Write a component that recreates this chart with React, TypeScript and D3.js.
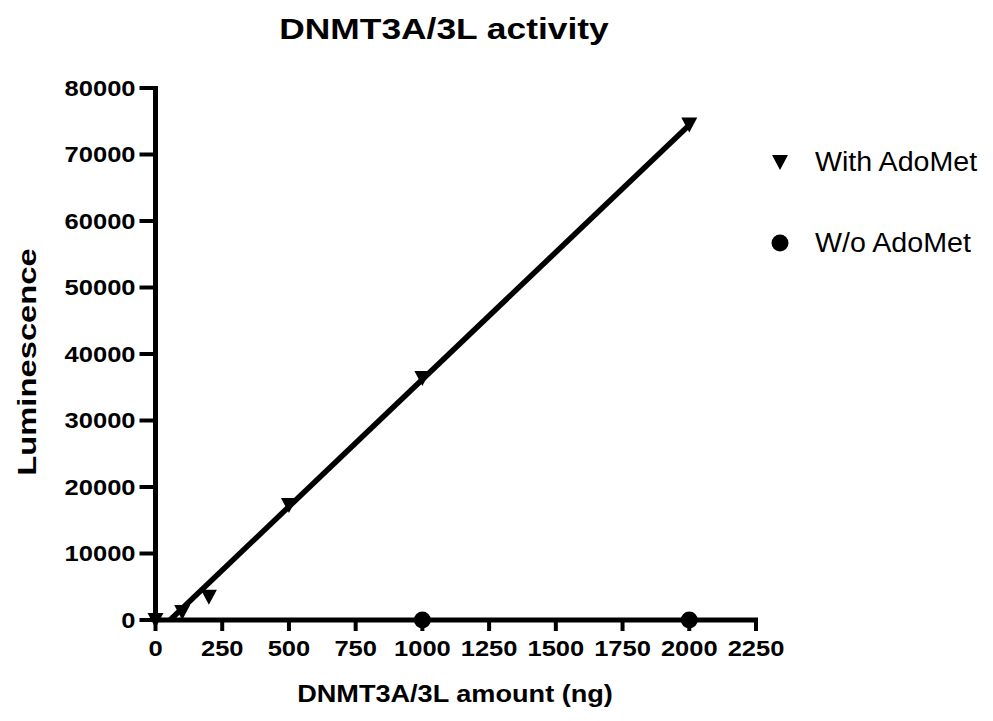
import React from "react";
import * as d3 from "d3";

const withAdoMetX = [0, 100, 200, 500, 1000, 2000];
const withAdoMetY = [0, 1200, 3500, 17300, 36400, 74500];
const withoutAdoMetX = [1000, 2000];
const withoutAdoMetY = [0, 0];
const xTicks = [0, 250, 500, 750, 1000, 1250, 1500, 1750, 2000, 2250];
const yTicks = [0, 10000, 20000, 30000, 40000, 50000, 60000, 70000, 80000];
const legendLabels = ["With AdoMet", "W/o AdoMet"];

const W = 993;
const H = 721;

export default function App() {
  const x = d3.scaleLinear().domain([0, 2250]).range([155.5, 756]);
  const y = d3.scaleLinear().domain([0, 80000]).range([620, 88]);

  // linear regression of the With AdoMet series
  const n = withAdoMetX.length;
  const mx = d3.mean(withAdoMetX) as number;
  const my = d3.mean(withAdoMetY) as number;
  let sxy = 0, sxx = 0;
  for (let i = 0; i < n; i++) {
    sxy += (withAdoMetX[i] - mx) * (withAdoMetY[i] - my);
    sxx += (withAdoMetX[i] - mx) ** 2;
  }
  const slope = sxy / sxx;
  const intercept = my - slope * mx;
  const x0 = Math.max(0, -intercept / slope);
  const x1 = d3.max(withAdoMetX) as number;
  const fitLine = d3.line<number>().x((v) => x(v)).y((v) => y(slope * v + intercept));

  const tri = (cx: number, cy: number) =>
    `M${cx - 8},${cy - 7}L${cx + 8},${cy - 7}L${cx},${cy + 8}Z`;

  const font = "'Liberation Sans', Arial, sans-serif";
  const tickSx = 1.16;

  return (
    <svg width={W} height={H} style={{ position: "absolute", left: 0, top: 0, background: "#fff" }} fontFamily={font}>
      <rect x={0} y={0} width={W} height={H} fill="#fff" />
      {/* title */}
      <g transform={`translate(444,39) scale(1.22,1)`}>
        <text textAnchor="middle" fontWeight="bold" fontSize={29}>DNMT3A/3L activity</text>
      </g>
      {/* axes */}
      <line x1={x(0)} x2={x(2250) + 2} y1={y(0)} y2={y(0)} stroke="#000" strokeWidth={5} />
      <line x1={x(0)} x2={x(0)} y1={y(80000) - 2} y2={y(0) + 2} stroke="#000" strokeWidth={5} />
      {yTicks.map((t) => (
        <g key={"y" + t}>
          <line x1={x(0) - 16} x2={x(0)} y1={y(t)} y2={y(t)} stroke="#000" strokeWidth={4} />
          <g transform={`translate(${x(0) - 20},${y(t) + 7.5}) scale(${tickSx},1)`}>
            <text textAnchor="end" fontWeight="bold" fontSize={22}>{t}</text>
          </g>
        </g>
      ))}
      {xTicks.map((t) => (
        <g key={"x" + t}>
          <line x1={x(t)} x2={x(t)} y1={y(0)} y2={y(0) + 11} stroke="#000" strokeWidth={4} />
          <g transform={`translate(${x(t)},656) scale(${tickSx},1)`}>
            <text textAnchor="middle" fontWeight="bold" fontSize={22}>{t}</text>
          </g>
        </g>
      ))}
      {/* axis titles */}
      <g transform={`translate(455,702) scale(1.13,1)`}>
        <text textAnchor="middle" fontWeight="bold" fontSize={24}>DNMT3A/3L amount (ng)</text>
      </g>
      <g transform={`translate(36,362) rotate(-90) scale(1.26,1)`}>
        <text textAnchor="middle" fontWeight="bold" fontSize={26}>Luminescence</text>
      </g>
      {/* fit line */}
      <path d={fitLine([x0, x1]) as string} stroke="#000" strokeWidth={5.5} fill="none" />
      {/* markers */}
      {withAdoMetX.map((v, i) => (
        <path key={"t" + i} d={tri(x(v), y(withAdoMetY[i]))} fill="#000" />
      ))}
      {withoutAdoMetX.map((v, i) => (
        <circle key={"c" + i} cx={x(v)} cy={y(withoutAdoMetY[i])} r={8.5} fill="#000" />
      ))}
      {/* legend */}
      <path d={tri(780, 162)} fill="#000" />
      <g transform="translate(815,171) scale(1.06,1)">
        <text fontSize={27}>{legendLabels[0]}</text>
      </g>
      <circle cx={780} cy={243} r={8.5} fill="#000" />
      <g transform="translate(815,252) scale(1.06,1)">
        <text fontSize={27}>{legendLabels[1]}</text>
      </g>
    </svg>
  );
}
